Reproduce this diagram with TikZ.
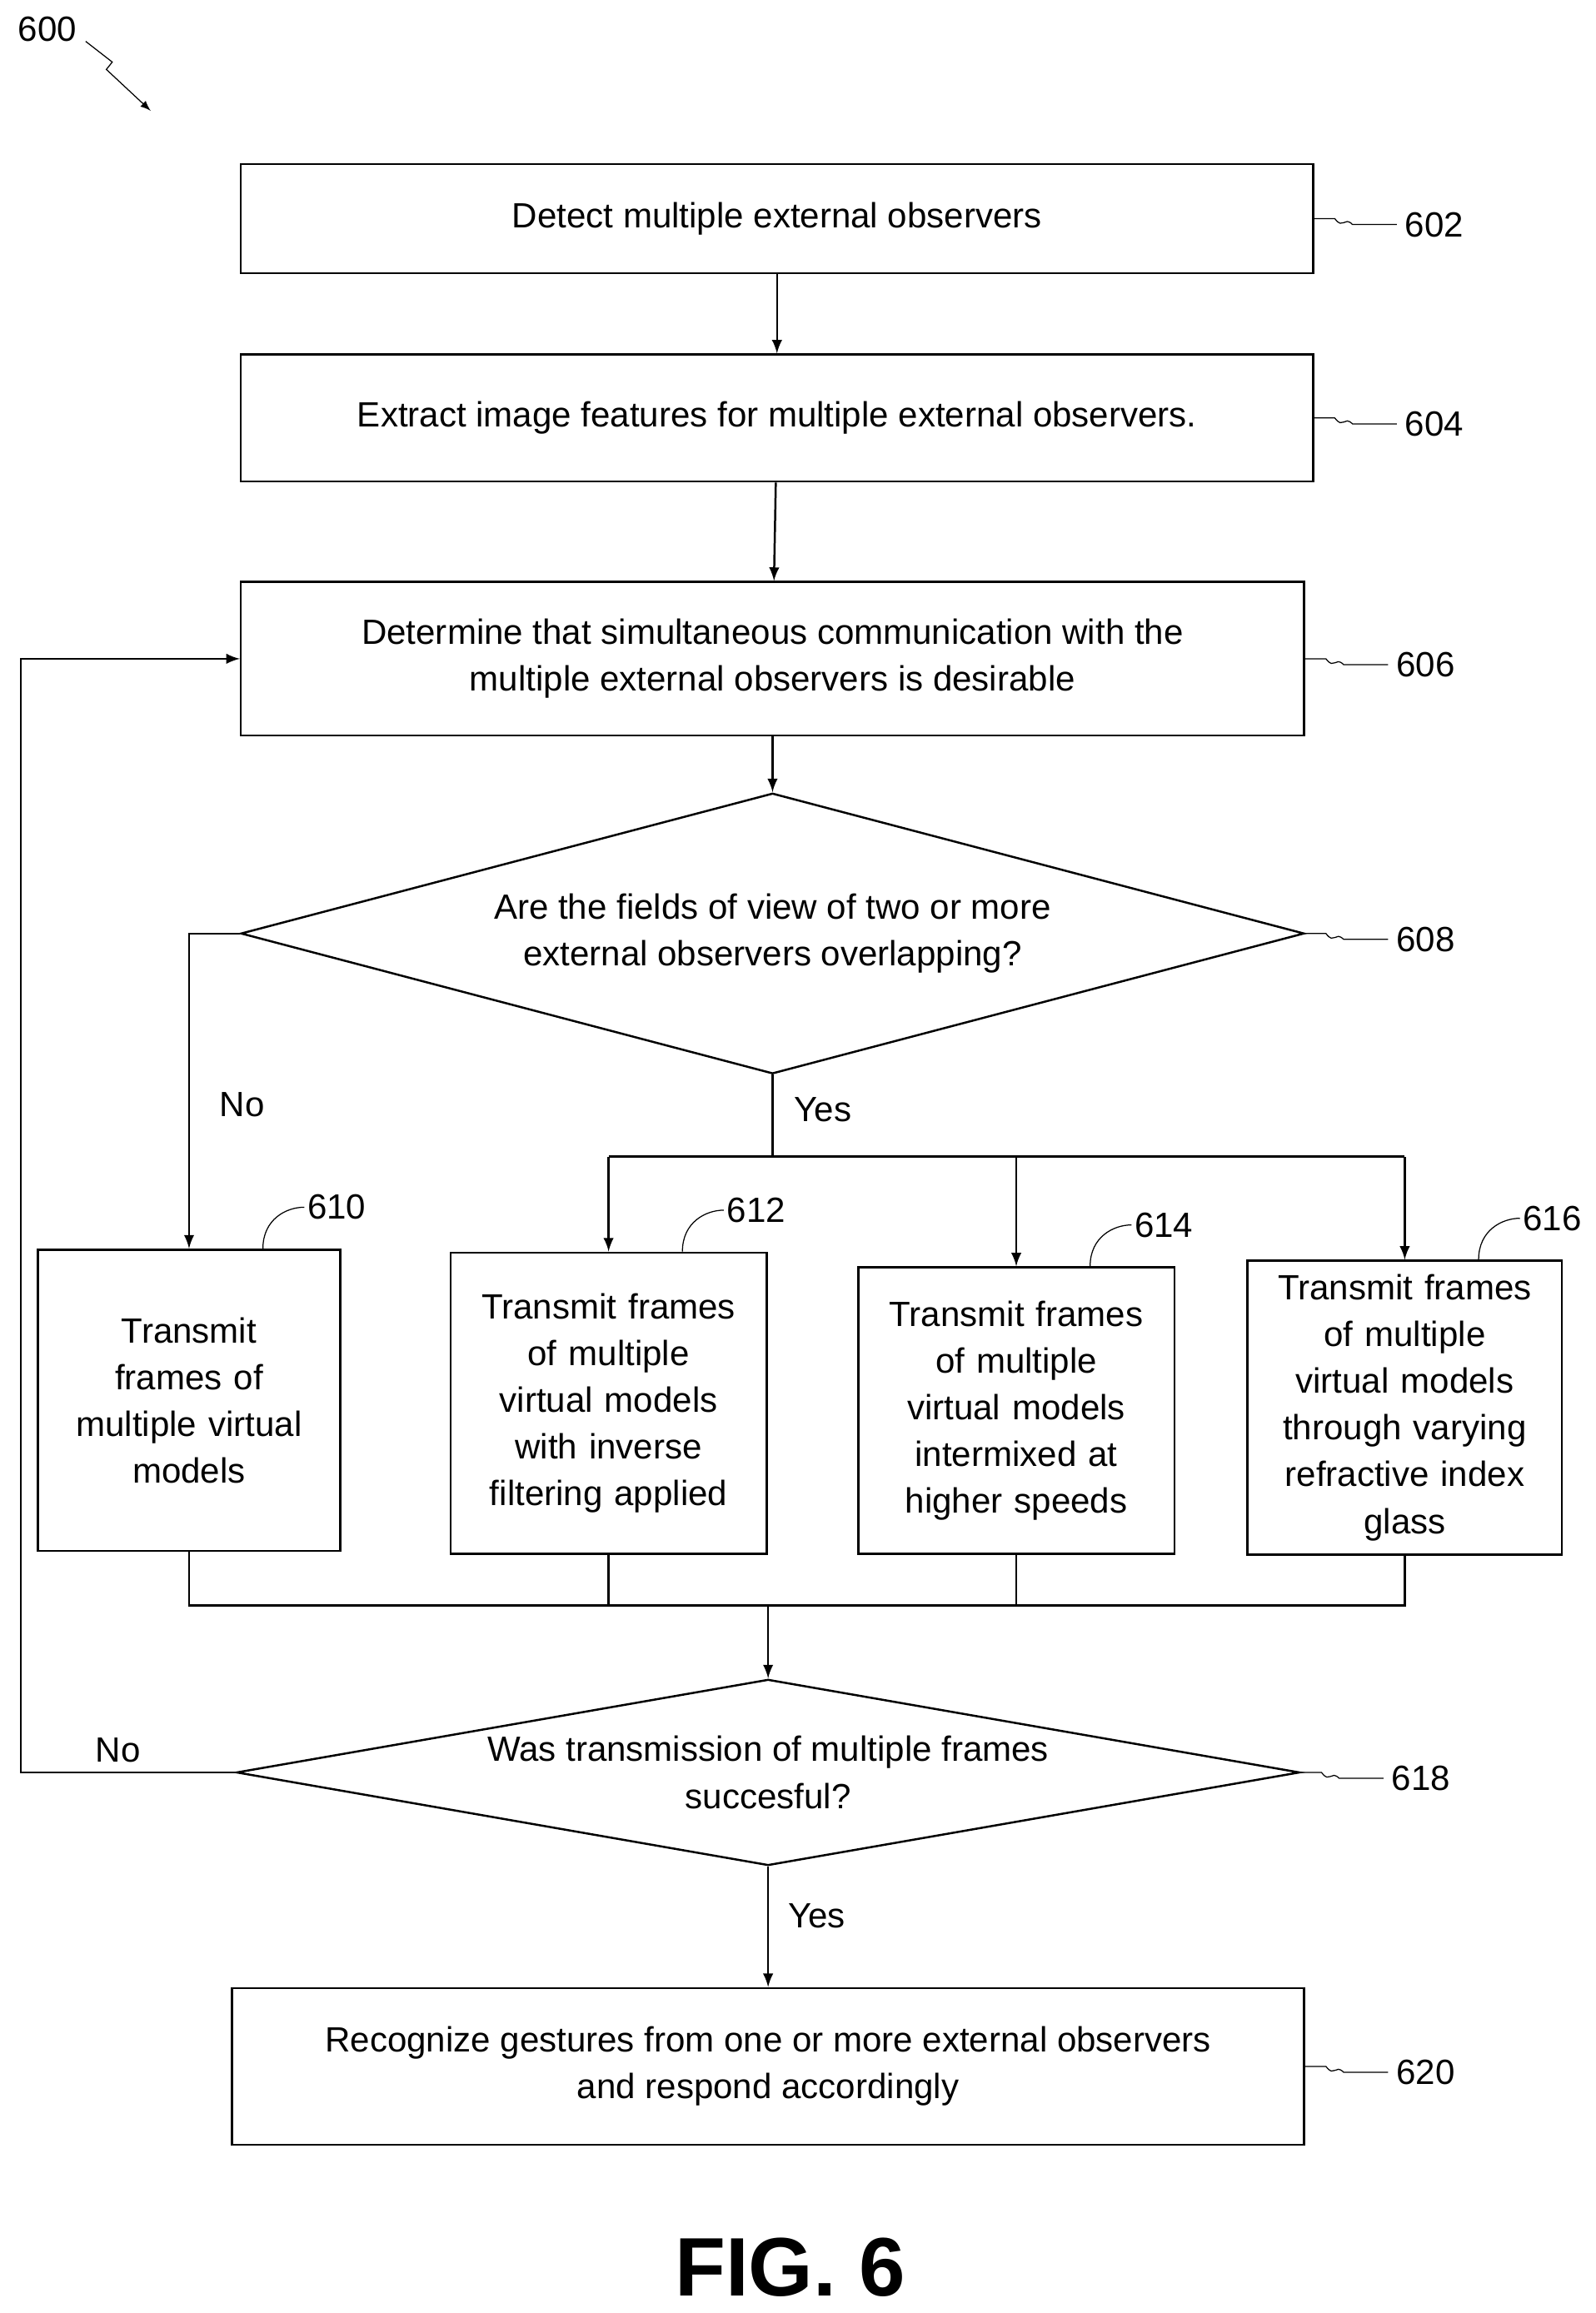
\documentclass[tikz,border=0pt]{standalone}
\usepackage{fontspec}
\setmainfont{Liberation Sans}
\usepackage{tikz}
\usetikzlibrary{shapes,arrows}
\tikzstyle{process} = [draw, thick, rectangle, align=center, inner sep=2pt]
\tikzstyle{decision} = [draw, thick, diamond, inner sep=0pt]
\tikzstyle{arrow} = [draw, ->, thick, >=latex]
\tikzstyle{line} = [draw, thick]
\tikzstyle{leader} = [draw, thin]

\begin{document}
\begin{tikzpicture}[x=0.02cm, y=-0.02cm, every node/.style={font=\fontsize{13.5}{18}\selectfont}]
\useasboundingbox (0,0) rectangle (1080,1566);
%% figure number
\node (n600) at (32,20) {600};
\draw[arrow, thin] (58,28) -- (76,42) -- (72,47) -- (102,75);

%% top boxes
\node[process, minimum width=14.52cm, minimum height=1.48cm] (b602) at (526,148) {Detect multiple external observers};
\node[process, minimum width=14.52cm, minimum height=1.72cm] (b604) at (526,283) {Extract image features for multiple external observers.};
\node[process, minimum width=14.4cm, minimum height=2.08cm] (b606) at (523,446) {Determine that simultaneous communication with the\\multiple external observers is desirable};
\node[decision, minimum width=14.4cm, minimum height=3.8cm,
  label={[align=center]center:Are the fields of view of two or more\\external observers overlapping?}] (d608) at (523,632) {};

%% branches
\node[process, minimum width=4.1cm, minimum height=4.08cm, text width=3.8cm] (b610) at (128,948) {Transmit\\frames of\\multiple virtual\\models};
\node[process, minimum width=4.28cm, minimum height=4.08cm, text width=4.1cm] (b612) at (412,950) {Transmit frames\\of multiple\\virtual models\\with inverse\\filtering applied};
\node[process, minimum width=4.28cm, minimum height=3.88cm, text width=4.1cm] (b614) at (688,955) {Transmit frames\\of multiple\\virtual models\\intermixed at\\higher speeds};
\node[process, minimum width=4.26cm, minimum height=3.98cm, text width=4.1cm] (b616) at (951,953) {Transmit frames\\of multiple\\virtual models\\through varying\\refractive index\\glass};

\node[decision, minimum width=14.4cm, minimum height=2.52cm,
  label={[align=center]center:Was transmission of multiple frames\\succesful?}] (d618) at (520,1200) {};
\node[process, minimum width=14.52cm, minimum height=2.12cm] (b620) at (520,1399) {Recognize gestures from one or more external observers\\and respond accordingly};

%% connectors
\draw[arrow] (b602) -- (b604);
\draw[arrow] (b604) -- (b606);
\draw[arrow] (b606) -- (d608);
\coordinate (yes608) at (523,783);
\draw[line] (d608.south) -- (yes608);
\draw[line] (412,783) -- (951,783);
\draw[arrow] (412,783) -- (b612.north);
\draw[arrow] (688,783) -- (b614.north);
\draw[arrow] (951,783) -- (b616.north);
\draw[arrow] (d608.west) -- (128,632) -- (b610.north);
\node (no608) at (164,748) {No};
\node (yes608t) at (557,751) {Yes};

\coordinate (bus) at (520,1087);
\draw[line] (b610.south) -- (128,1087) -- (951,1087) -- (b616.south);
\draw[line] (b612.south) -- (412,1087);
\draw[line] (b614.south) -- (688,1087);
\draw[arrow] (bus) -- (d618.north);
\draw[arrow] (d618.west) -- (14,1200) -- (14,446) -- (b606.west);
\node (no618) at (80,1185) {No};
\draw[arrow] (d618.south) -- (b620.north);
\node (yes618) at (553,1297) {Yes};

%% reference numerals
\foreach \n/\t in {b602/602,b604/604,b606/606,d608/608,d618/618,b620/620} {
  \draw[leader] (\n.east) -- ++(14,0) .. controls +(6,8) and +(-6,-6) .. ++(12,4) -- ++(30,0) node[right, inner sep=3pt] {\t};
}
\foreach \n/\t in {b610/610,b612/612,b614/614,b616/616} {
  \draw[leader] ([xshift=1cm]\n.north) .. controls +(0,-20) and +(-12,0) .. ++(28,-28) node[right, inner sep=1pt] {\t};
}
\node[font=\bfseries\fontsize{32}{36}\selectfont] (fig) at (535,1535) {FIG. 6};
\end{tikzpicture}
\end{document}
